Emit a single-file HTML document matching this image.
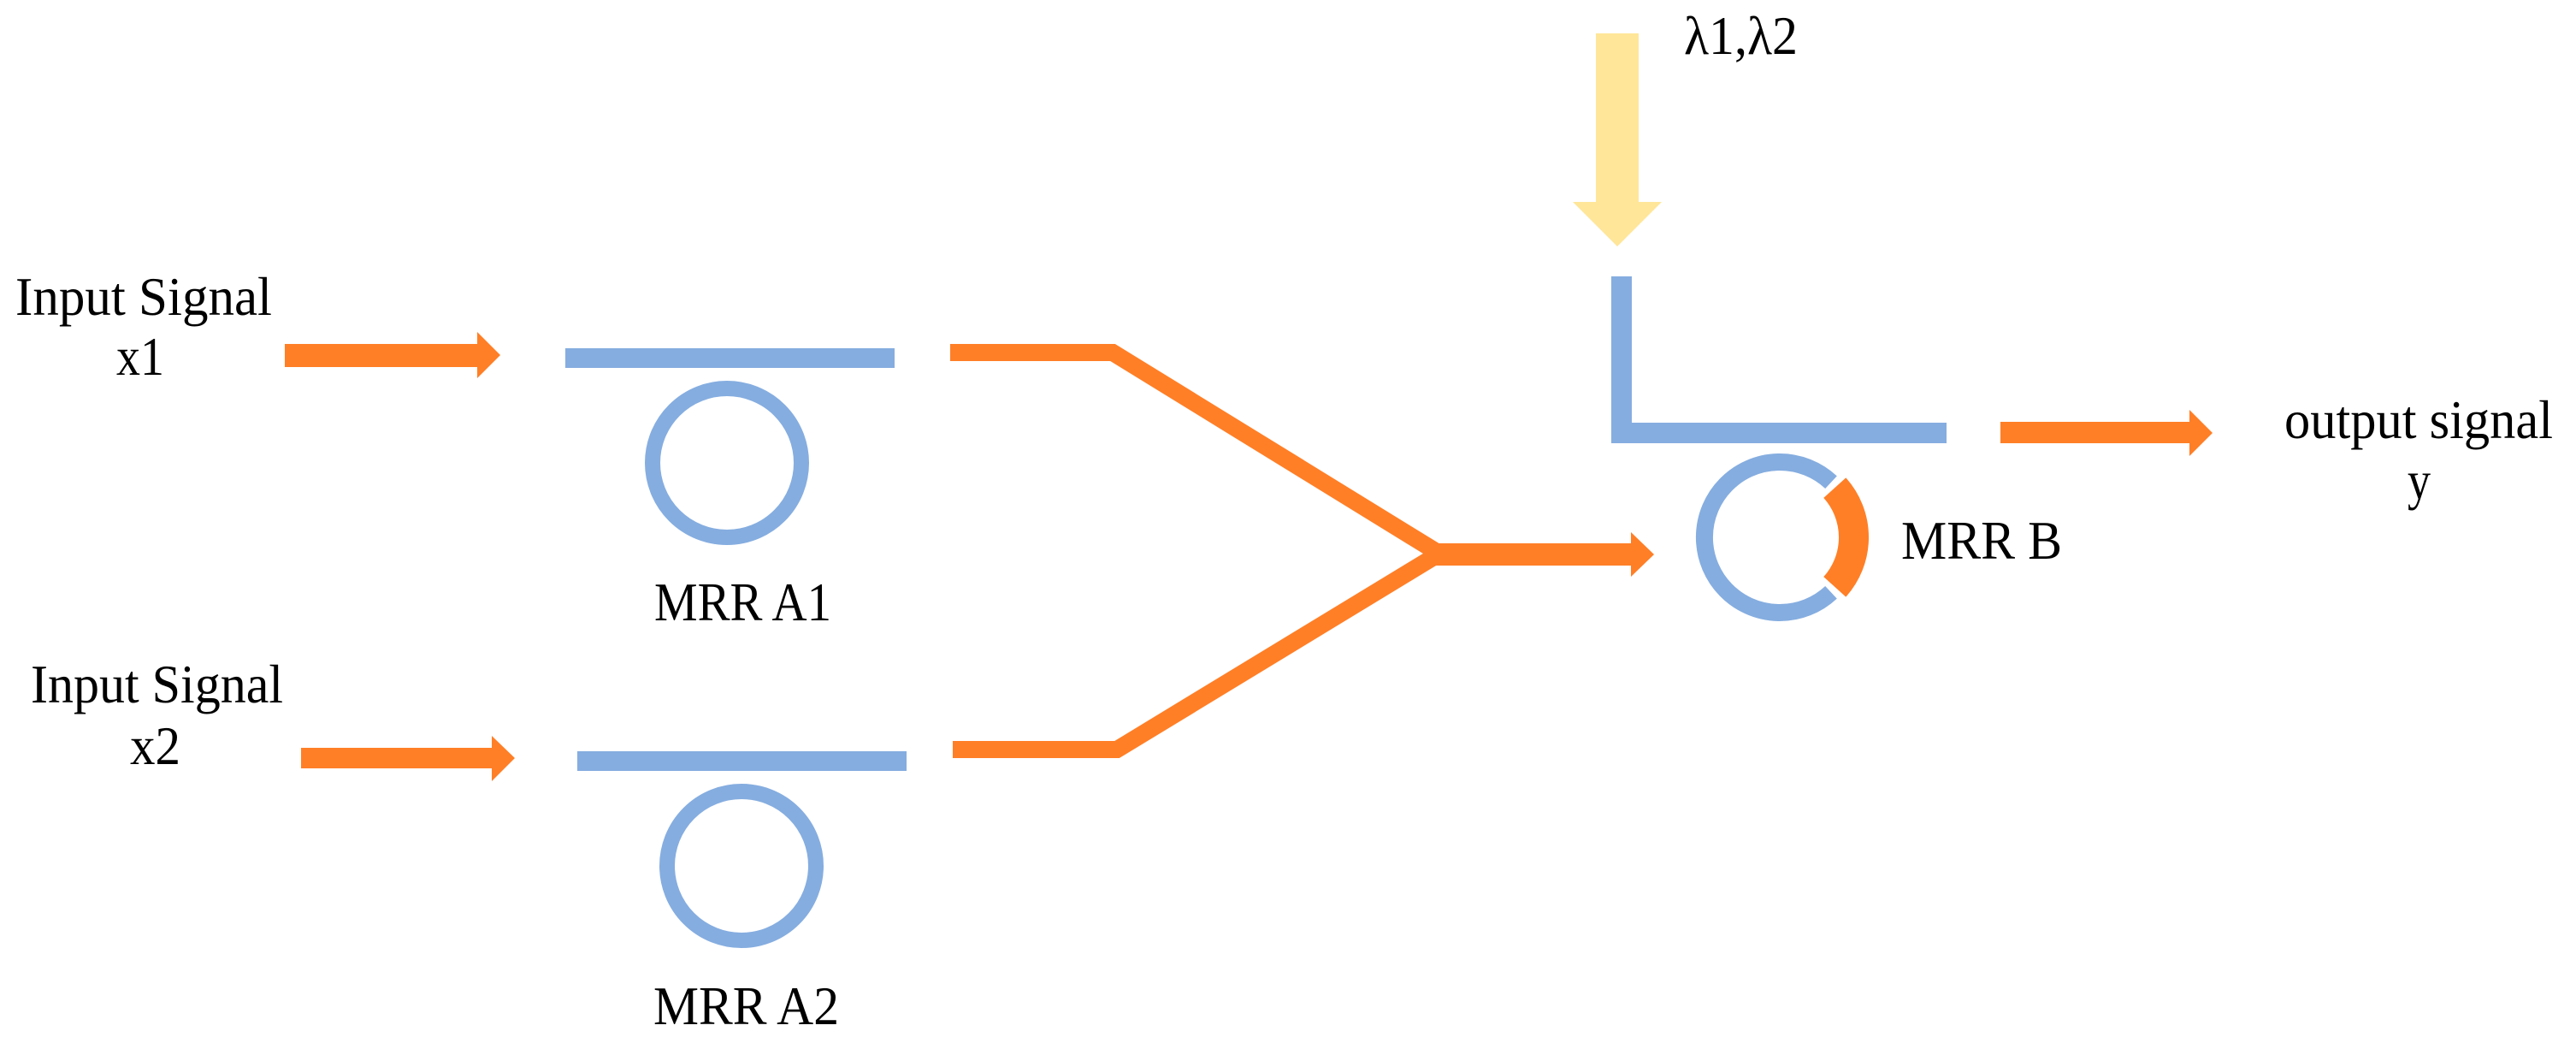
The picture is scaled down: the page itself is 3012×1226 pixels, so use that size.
<!DOCTYPE html>
<html>
<head>
<meta charset="utf-8">
<style>
html,body{margin:0;padding:0;background:#fff;}
svg{display:block;}
text{font-family:"Liberation Serif",serif;font-size:64px;fill:#000;}
</style>
</head>
<body>
<svg width="3012" height="1226" viewBox="0 0 3012 1226" xmlns="http://www.w3.org/2000/svg">
  <!-- Labels -->
  <text x="18" y="368" textLength="300" lengthAdjust="spacingAndGlyphs">Input Signal</text>
  <text x="136" y="438" textLength="56" lengthAdjust="spacingAndGlyphs">x1</text>
  <text x="36" y="821" textLength="295" lengthAdjust="spacingAndGlyphs">Input Signal</text>
  <text x="152" y="893" textLength="59" lengthAdjust="spacingAndGlyphs">x2</text>
  <text x="765" y="725" textLength="207" lengthAdjust="spacingAndGlyphs">MRR A1</text>
  <text x="764" y="1197" textLength="217" lengthAdjust="spacingAndGlyphs">MRR A2</text>
  <text x="1969" y="63" textLength="133" lengthAdjust="spacingAndGlyphs">λ1,λ2</text>
  <text x="2223" y="653" textLength="188" lengthAdjust="spacingAndGlyphs">MRR B</text>
  <text x="2671" y="512" textLength="314" lengthAdjust="spacingAndGlyphs">output signal</text>
  <text x="2815" y="583" textLength="27" lengthAdjust="spacingAndGlyphs">y</text>

  <!-- Input arrows -->
  <polygon fill="#FF7F27" points="333,402 558,402 558,388 585,415 558,442 558,429 333,429"/>
  <polygon fill="#FF7F27" points="352,874 575,874 575,860 602,886 575,913 575,898 352,898"/>

  <!-- Waveguides A1, A2 -->
  <rect x="661" y="407" width="385" height="23" fill="#85ADE0"/>
  <rect x="675" y="878" width="385" height="23" fill="#85ADE0"/>
  <!-- Rings A1, A2 -->
  <circle cx="850" cy="541" r="87" fill="none" stroke="#85ADE0" stroke-width="18"/>
  <circle cx="867" cy="1012" r="87" fill="none" stroke="#85ADE0" stroke-width="18"/>

  <!-- Orange combiner -->
  <polyline points="1111,412 1301,412 1683,647" fill="none" stroke="#FF7F27" stroke-width="20" stroke-linejoin="miter"/>
  <polyline points="1114,876 1306,876 1683,647" fill="none" stroke="#FF7F27" stroke-width="20" stroke-linejoin="miter"/>
  <polygon fill="#FF7F27" points="1676,635 1907,635 1907,622 1934,648 1907,674 1907,661 1676,661"/>

  <!-- Yellow arrow -->
  <polygon fill="#FFE699" points="1866,39 1916,39 1916,236 1943,236 1891,288 1839,236 1866,236"/>

  <!-- Blue L waveguide -->
  <polygon fill="#85ADE0" points="1884,323 1908,323 1908,494 2276,494 2276,518 1884,518"/>

  <!-- Output arrow -->
  <polygon fill="#FF7F27" points="2339,493 2560,493 2560,479 2587,506 2560,533 2560,518 2339,518"/>

  <!-- Ring B -->
  <path d="M2141,692.3 A88,88 0 1 1 2141,563.7" fill="none" stroke="#85ADE0" stroke-width="20"/>
  <path d="M2145.3,570.1 A86.5,86.5 0 0 1 2145.3,685.9" fill="none" stroke="#FF7F27" stroke-width="35"/>
</svg>
</body>
</html>
